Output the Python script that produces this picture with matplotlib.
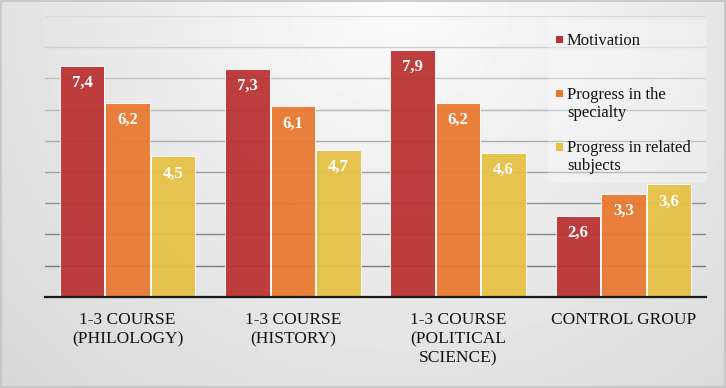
import numpy as np
import matplotlib
matplotlib.use("Agg")
import matplotlib.pyplot as plt
from matplotlib.patches import Rectangle

# ---- data ----
categories = ["1-3 COURSE\n(PHILOLOGY)", "1-3 COURSE\n(HISTORY)",
              "1-3 COURSE\n(POLITICAL\nSCIENCE)", "CONTROL GROUP"]
series_names = ["Motivation", "Progress in the\nspecialty", "Progress in related\nsubjects"]
motivation = [7.4, 7.3, 7.9, 2.6]
progress_specialty = [6.2, 6.1, 6.2, 3.3]
progress_related = [4.5, 4.7, 4.6, 3.6]
colors = ["#BA3030", "#E8772E", "#E6C043"]

series = [motivation, progress_specialty, progress_related]

plt.rcParams["font.family"] = ["Liberation Serif", "DejaVu Serif"]

W, H = 726, 388

fig = plt.figure(figsize=(W / 100, H / 100), dpi=100)

def fx(x):
    return x / W

def fy(y):
    return 1 - y / H

# background gradient
bg = fig.add_axes([0, 0, 1, 1], zorder=0)
yy, xx = np.mgrid[0:1:H * 1j, 0:1:W * 1j]
d = np.sqrt(((xx - 0.55) / 0.6) ** 2 + (yy / 1.1) ** 2)
val = np.clip(0.985 - 0.11 * d, 0, 1)
bg.imshow(val, cmap="gray", vmin=0, vmax=1, extent=[0, 1, 0, 1],
          origin="upper", aspect="auto", interpolation="bilinear")
bg.set_xlim(0, 1)
bg.set_ylim(0, 1)
bg.axis("off")
bg.add_patch(Rectangle((0.001, 0.002), 0.997, 0.995, fill=False,
                       edgecolor="#c4c4c4", linewidth=1.2, transform=bg.transAxes))

# main axes
base_y, top_y = 296.7, 16.0
ax = fig.add_axes([fx(45), fy(base_y), fx(706) - fx(45), (base_y - top_y) / H], zorder=1)
ax.set_facecolor("none")
ax.set_xlim(0, 4)
ax.set_ylim(0, 9)

# gridlines
for k in range(1, 10):
    g = 0.48 + (k - 1) * (0.86 - 0.48) / 8
    ax.axhline(k, color=(g, g, g), linewidth=1.0, zorder=1)

x = np.arange(len(categories)) + 0.5
offsets = [-0.275, 0.0, 0.275]
width = 0.27
for vals, off, c in zip(series, offsets, colors):
    ax.bar(x + off, vals, width=width, color=c, alpha=0.93,
           edgecolor="white", linewidth=0.7, zorder=2)
    for xi, v in zip(x + off, vals):
        ax.annotate(f"{v:.1f}".replace(".", ","), xy=(xi, v), xytext=(0, -6.5),
                    textcoords="offset points", ha="center", va="top",
                    color="white", fontweight="bold", fontsize=12, zorder=4)

for s in ["top", "left", "right"]:
    ax.spines[s].set_visible(False)
ax.spines["bottom"].set_color("#1a1a1a")
ax.spines["bottom"].set_linewidth(1.6)
ax.spines["bottom"].set_zorder(3)
ax.set_yticks([])
ax.set_xticks(x)
ax.set_xticklabels(categories, fontsize=12.5, color="#111111", linespacing=1.25)
ax.tick_params(axis="x", length=0, pad=11)

# legend area (lighter box)
ax.add_patch(Rectangle((fx(548), fy(183)), fx(706) - fx(548), (183 - 20) / H,
                       transform=fig.transFigure, facecolor="white", alpha=0.28,
                       edgecolor="none", zorder=1.5, clip_on=False))

# legend entries
sq_centers = [39.5, 93.5, 147.0]
first_baselines = [45.0, 99.3, 152.3]
line_step = 18.0
for name, c, yc, yb in zip(series_names, colors, sq_centers, first_baselines):
    ax.add_patch(Rectangle((fx(556), fy(yc + 3.6)), 7.2 / W, 7.2 / H,
                           transform=fig.transFigure, facecolor=c,
                           edgecolor="none", zorder=5, clip_on=False))
    for j, line in enumerate(name.split("\n")):
        fig.text(fx(567), fy(yb + j * line_step), line, ha="left", va="baseline",
                 fontsize=12, color="#111111", zorder=5)

fig.savefig("out.png", dpi=100)
